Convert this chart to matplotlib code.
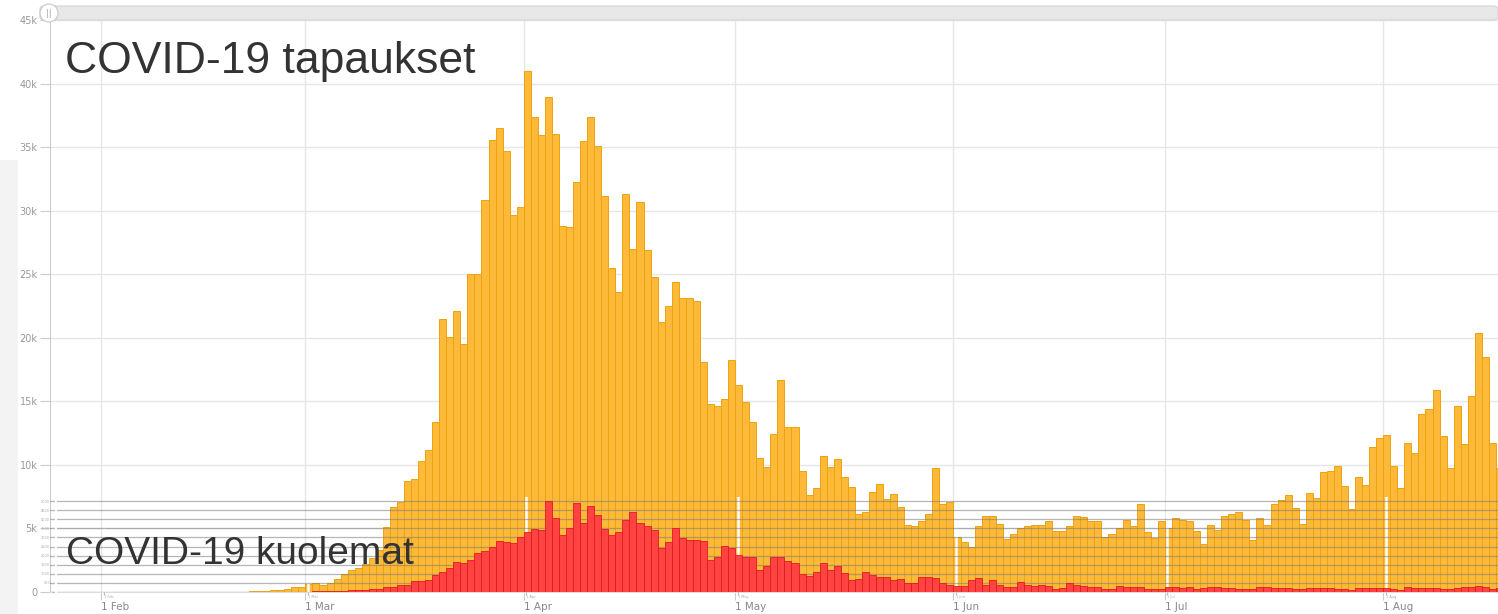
import matplotlib
matplotlib.use('Agg')
import matplotlib.pyplot as plt
import matplotlib.dates as mdates
import pandas as pd
from matplotlib.patches import FancyBboxPatch, Ellipse, Rectangle

# päivittäiset tapaukset, 25.1. - 17.8.2020
cases_jan = [2, 5, 8, 10, 12, 10, 15]
cases_feb = [10, 8, 12, 10, 15, 12, 10, 8, 10, 12, 8, 10, 15, 10, 8, 10, 12, 10, 15, 20,
             25, 80, 100, 110, 150, 180, 250, 390, 390]
cases_mar = [600, 680, 550, 680, 1000, 1400, 1740, 1880, 2200, 2700,
             3300, 5115, 6666, 7075, 8760, 8925, 10340, 11156, 13390, 21440,
             20050, 22090, 19540, 25030, 24980, 30800, 35590, 36520, 34690, 29660, 30260]
cases_apr = [41000, 37330, 35920, 38910, 36030, 28790, 28680, 32270, 35480, 37330,
             35050, 31130, 25500, 23620, 31290, 26990, 30690, 26910, 24820, 21280,
             22480, 24380, 23100, 23100, 22860, 18070, 14800, 14610, 15160, 18290]
cases_may = [16270, 14970, 13390, 10560, 9850, 12440, 16670, 13000, 13000, 9530,
             7630, 8210, 10690, 9840, 10470, 9080, 8290, 6110, 6260, 7900,
             8530, 7320, 7740, 6690, 5260, 5160, 5580, 6110, 9790, 6900, 7050]
cases_jun = [4330, 3960, 3540, 5220, 5960, 5960, 5380, 4170, 4540, 5010,
             5170, 5250, 5300, 5610, 4770, 4770, 5170, 6000, 5900, 5560,
             5610, 4350, 4540, 5060, 5670, 5170, 6960, 4720, 4250, 5560]
cases_jul = [5050, 5790, 5630, 5580, 4790, 3790, 5260, 4840, 5950, 6110,
             6260, 5630, 4080, 5850, 5280, 6910, 7230, 7650, 6600, 5380,
             7810, 7390, 9450, 9550, 9920, 8340, 6540, 9030, 8440, 11400, 12090]
cases_aug = [12350, 9920, 8180, 11720, 10930, 14040, 14410, 15890, 12250, 9760,
             14670, 11610, 15410, 20370, 18470, 11720, 9760]

# päivittäiset kuolemat
deaths_jan = [0, 0, 0, 0, 0, 0, 0]
deaths_feb = [0] * 14 + [1, 0, 1, 0, 0, 1, 2, 2, 3, 5, 7, 10, 12, 15, 20]
deaths_mar = [25, 35, 40, 50, 60, 70, 85, 100, 130,
              150, 170, 260, 300, 370, 370, 630, 630, 670, 930, 1110,
              1340, 1640, 1600, 1770, 2140, 2230, 2450, 2820, 2730, 2680, 3010]
deaths_apr = [3310, 3460, 3420, 4980, 4070, 3140, 3530, 4870, 3790, 4720,
              4220, 3480, 3120, 3310, 3940, 4420, 3810, 3600, 3420, 2420,
              2750, 3530, 2970, 2860, 2860, 2810, 1760, 1900, 2530, 2420]
deaths_may = [2050, 1930, 1900, 1230, 1420, 1900, 1900, 1700, 1600, 1000,
              860, 1080, 1600, 1230, 1420, 1050, 635, 707, 1115, 930,
              820, 820, 670, 700, 480, 520, 820, 800, 750, 520, 374]
deaths_jun = [338, 338, 670, 743, 410, 670, 410, 260, 290, 560,
              410, 340, 370, 340, 186, 220, 480, 370, 340, 300,
              260, 150, 150, 340, 260, 300, 300, 190, 150, 150]
deaths_jul = [300, 300, 220, 260, 190, 200, 300, 250, 230, 230,
              180, 150, 150, 250, 250, 200, 220, 200, 150, 150,
              220, 220, 200, 230, 180, 140, 130, 220, 230, 210, 230]
deaths_aug = [200, 140, 130, 250, 240, 220, 240, 200, 150, 140,
              230, 260, 280, 330, 290, 160, 200]

month_labels = ['1 Feb', '1 Mar', '1 Apr', '1 May', '1 Jun', '1 Jul', '1 Aug']
case_ticks = list(range(0, 45001, 5000))
case_tick_labels = ['0'] + ['%dk' % (v // 1000) for v in case_ticks[1:]]
death_ticks = list(range(0, 5001, 500))

cases = cases_jan + cases_feb + cases_mar + cases_apr + cases_may + cases_jun + cases_jul + cases_aug
deaths = deaths_jan + deaths_feb + deaths_mar + deaths_apr + deaths_may + deaths_jun + deaths_jul + deaths_aug
dates = pd.date_range('2020-01-25', periods=len(cases), freq='D')
x = mdates.date2num(dates)
months = mdates.date2num(pd.date_range('2020-02-01', '2020-08-01', freq='MS'))
x0 = mdates.date2num(pd.Timestamp('2020-01-24 18:00'))
x1 = mdates.date2num(pd.Timestamp('2020-08-17 07:00'))

W, H = 1498, 614
fig = plt.figure(figsize=(W / 100, H / 100), dpi=100)
fig.patch.set_facecolor('white')

# vasen harmaa reuna (toisen kuvakaappauksen jäänne)
fig.patches.append(Rectangle((0, 0), 18 / W, 454 / H, transform=fig.transFigure,
                             facecolor='#f3f3f3', edgecolor='none', zorder=0))

# pääkaavio: tapaukset
ax = fig.add_axes([50 / W, 22 / H, 1 - 50 / W, 572 / H])
ax.bar(x, cases, width=1, align='edge', color='#fdb93a', edgecolor='#f0a20c', linewidth=0.7)
ax.set_xlim(x0, x1)
ax.set_ylim(0, 45000)
ax.set_yticks(case_ticks)
ax.set_yticklabels(case_tick_labels)
ax.set_xticks(months)
ax.set_xticklabels(month_labels, ha='left')
ax.set_axisbelow(True)
ax.grid(True, color='#e6e6e6', linewidth=1)
for s in ['top', 'right']:
    ax.spines[s].set_visible(False)
ax.spines['left'].set_color('#cccccc')
ax.spines['bottom'].set_color('#dddddd')
ax.tick_params(axis='y', length=7, color='#cccccc', labelsize=7, labelcolor='#999999', pad=2)
ax.tick_params(axis='x', length=6, color='#cccccc', labelsize=7.5, labelcolor='#888888', pad=1)

# upotettu kaavio: kuolemat
ax2 = fig.add_axes([50 / W, 22 / H, 1 - 50 / W, 95 / H])
ax2.patch.set_visible(False)
ax2.bar(x, deaths, width=1, align='edge', color='#ff4343', edgecolor='#e41b1b', linewidth=0.6)
ax2.set_xlim(x0, x1)
ax2.set_ylim(0, 5220)
ax2.set_yticks(death_ticks)
ax2.set_yticklabels([('%d' % v) if v else '' for v in death_ticks])
ax2.set_xticks(months + 0.35)
ax2.set_xticklabels(month_labels, ha='left')
ax2.set_axisbelow(True)
ax2.grid(True, axis='y', color='#7a7a7a', alpha=0.55, linewidth=0.9)
ax2.grid(True, axis='x', color='white', linewidth=1.8)
for s in ['top', 'right', 'bottom']:
    ax2.spines[s].set_visible(False)
ax2.spines['left'].set_color('white')
ax2.spines['left'].set_linewidth(1.5)
ax2.spines['left'].set_position(('outward', -4))
ax2.tick_params(axis='y', length=3, color='#bbbbbb', labelsize=2.5, labelcolor='#aaaaaa', pad=1)
ax2.tick_params(axis='x', length=2, color='#bbbbbb', labelsize=2.5, labelcolor='#aaaaaa', pad=0.5)

fam = ['Liberation Sans', 'DejaVu Sans']
fig.text(65 / W, 1 - 73 / H, 'COVID-19 tapaukset', fontsize=32, color='#333333',
         family=fam, va='baseline', ha='left')
fig.text(66 / W, 1 - 564 / H, 'COVID-19 kuolemat', fontsize=28, color='#333333',
         family=fam, va='baseline', ha='left')

# vierityspalkki ylhäällä
bar = FancyBboxPatch((40 / W, 1 - 20 / H), 1 - 40 / W, 14 / H,
                     boxstyle='round,pad=0,rounding_size=0.004',
                     transform=fig.transFigure, facecolor='#e8e8e8', edgecolor='#d4d4d4', linewidth=0.8)
fig.patches.append(bar)
handle = Ellipse((49 / W, 1 - 13 / H), 18 / W, 18 / H, transform=fig.transFigure,
                 facecolor='white', edgecolor='#c8c8c8', linewidth=0.8)
fig.patches.append(handle)
fig.text(49 / W, 1 - 13 / H, '||', fontsize=6, color='#aaaaaa', ha='center', va='center')

fig.savefig('out.png', dpi=100)
